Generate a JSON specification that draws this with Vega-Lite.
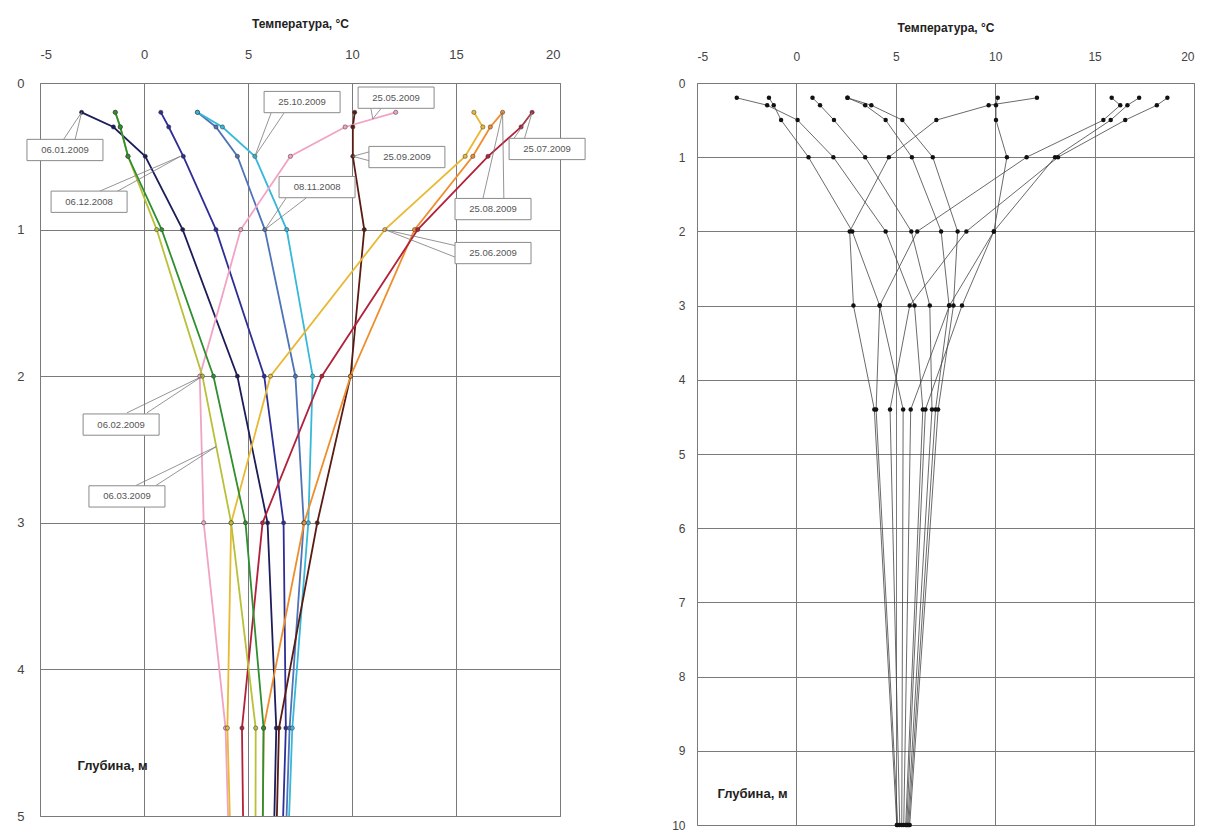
{
  "$schema": "https://vega.github.io/schema/vega-lite/v6.json",
  "background": "white",
  "padding": {"left": 16, "top": 16, "right": 5, "bottom": 2},
  "spacing": 83,
  "config": {
    "font": "Liberation Sans",
    "view": {"stroke": "#808080", "strokeWidth": 1},
    "axis": {
      "labelFont": "Liberation Sans", "labelColor": "#444", "labelFontSize": 13,
      "titleFont": "Liberation Sans", "titleColor": "#222", "titleFontSize": 12, "titleFontWeight": "bold",
      "gridColor": "#7a7a7a", "gridOpacity": 1, "gridWidth": 1, "domain": false, "ticks": false,
      "labelExpr": "'' + datum.value"
    }
  },
  "datasets": {
    "profiles": [
      {"date": "06.01.2009", "depth": 0.2, "temp": -3.0},
      {"date": "06.01.2009", "depth": 0.3, "temp": -1.47},
      {"date": "06.01.2009", "depth": 0.5, "temp": 0.06},
      {"date": "06.01.2009", "depth": 1.0, "temp": 1.86},
      {"date": "06.01.2009", "depth": 2.0, "temp": 4.49},
      {"date": "06.01.2009", "depth": 3.0, "temp": 5.94},
      {"date": "06.01.2009", "depth": 4.4, "temp": 6.36},
      {"date": "06.01.2009", "depth": 10.0, "temp": 5.5},
      {"date": "06.12.2008", "depth": 0.2, "temp": 0.81},
      {"date": "06.12.2008", "depth": 0.3, "temp": 1.19},
      {"date": "06.12.2008", "depth": 0.5, "temp": 1.89},
      {"date": "06.12.2008", "depth": 1.0, "temp": 3.46},
      {"date": "06.12.2008", "depth": 2.0, "temp": 5.78},
      {"date": "06.12.2008", "depth": 3.0, "temp": 6.71},
      {"date": "06.12.2008", "depth": 4.4, "temp": 6.82},
      {"date": "06.12.2008", "depth": 10.0, "temp": 5.6},
      {"date": "08.11.2008", "depth": 0.2, "temp": 2.57},
      {"date": "08.11.2008", "depth": 0.3, "temp": 3.46},
      {"date": "08.11.2008", "depth": 0.5, "temp": 4.49},
      {"date": "08.11.2008", "depth": 1.0, "temp": 5.81},
      {"date": "08.11.2008", "depth": 2.0, "temp": 7.28},
      {"date": "08.11.2008", "depth": 3.0, "temp": 7.68},
      {"date": "08.11.2008", "depth": 4.4, "temp": 7.0},
      {"date": "08.11.2008", "depth": 10.0, "temp": 5.65},
      {"date": "25.10.2009", "depth": 0.2, "temp": 2.57},
      {"date": "25.10.2009", "depth": 0.3, "temp": 3.77},
      {"date": "25.10.2009", "depth": 0.5, "temp": 5.33},
      {"date": "25.10.2009", "depth": 1.0, "temp": 6.86},
      {"date": "25.10.2009", "depth": 2.0, "temp": 8.11},
      {"date": "25.10.2009", "depth": 3.0, "temp": 7.9},
      {"date": "25.10.2009", "depth": 4.4, "temp": 7.13},
      {"date": "25.10.2009", "depth": 10.0, "temp": 5.7},
      {"date": "25.09.2009", "depth": 0.2, "temp": 10.13},
      {"date": "25.09.2009", "depth": 0.3, "temp": 10.04},
      {"date": "25.09.2009", "depth": 0.5, "temp": 10.04},
      {"date": "25.09.2009", "depth": 1.0, "temp": 10.59},
      {"date": "25.09.2009", "depth": 2.0, "temp": 9.93},
      {"date": "25.09.2009", "depth": 3.0, "temp": 8.33},
      {"date": "25.09.2009", "depth": 4.4, "temp": 6.49},
      {"date": "25.09.2009", "depth": 10.0, "temp": 5.55},
      {"date": "25.05.2009", "depth": 0.2, "temp": 12.1},
      {"date": "25.05.2009", "depth": 0.3, "temp": 9.67},
      {"date": "25.05.2009", "depth": 0.5, "temp": 7.04},
      {"date": "25.05.2009", "depth": 1.0, "temp": 4.65},
      {"date": "25.05.2009", "depth": 2.0, "temp": 2.68},
      {"date": "25.05.2009", "depth": 3.0, "temp": 2.87},
      {"date": "25.05.2009", "depth": 4.4, "temp": 3.92},
      {"date": "25.05.2009", "depth": 10.0, "temp": 5.05},
      {"date": "25.06.2009", "depth": 0.2, "temp": 15.86},
      {"date": "25.06.2009", "depth": 0.3, "temp": 16.29},
      {"date": "25.06.2009", "depth": 0.5, "temp": 15.44},
      {"date": "25.06.2009", "depth": 1.0, "temp": 11.58},
      {"date": "25.06.2009", "depth": 2.0, "temp": 6.08},
      {"date": "25.06.2009", "depth": 3.0, "temp": 4.19},
      {"date": "25.06.2009", "depth": 4.4, "temp": 4.01},
      {"date": "25.06.2009", "depth": 10.0, "temp": 5.1},
      {"date": "25.08.2009", "depth": 0.2, "temp": 17.24},
      {"date": "25.08.2009", "depth": 0.3, "temp": 16.65},
      {"date": "25.08.2009", "depth": 0.5, "temp": 15.81},
      {"date": "25.08.2009", "depth": 1.0, "temp": 13.01},
      {"date": "25.08.2009", "depth": 2.0, "temp": 9.93},
      {"date": "25.08.2009", "depth": 3.0, "temp": 7.7},
      {"date": "25.08.2009", "depth": 4.4, "temp": 5.75},
      {"date": "25.08.2009", "depth": 10.0, "temp": 5.4},
      {"date": "25.07.2009", "depth": 0.2, "temp": 18.66},
      {"date": "25.07.2009", "depth": 0.3, "temp": 18.13},
      {"date": "25.07.2009", "depth": 0.5, "temp": 16.54},
      {"date": "25.07.2009", "depth": 1.0, "temp": 13.16},
      {"date": "25.07.2009", "depth": 2.0, "temp": 8.55},
      {"date": "25.07.2009", "depth": 3.0, "temp": 5.7},
      {"date": "25.07.2009", "depth": 4.4, "temp": 4.71},
      {"date": "25.07.2009", "depth": 10.0, "temp": 5.2},
      {"date": "06.02.2009", "depth": 0.2, "temp": -1.38},
      {"date": "06.02.2009", "depth": 0.3, "temp": -1.14},
      {"date": "06.02.2009", "depth": 0.5, "temp": -0.77},
      {"date": "06.02.2009", "depth": 1.0, "temp": 0.61},
      {"date": "06.02.2009", "depth": 2.0, "temp": 2.81},
      {"date": "06.02.2009", "depth": 3.0, "temp": 4.19},
      {"date": "06.02.2009", "depth": 4.4, "temp": 5.37},
      {"date": "06.02.2009", "depth": 10.0, "temp": 5.3},
      {"date": "06.03.2009", "depth": 0.2, "temp": -1.38},
      {"date": "06.03.2009", "depth": 0.3, "temp": -1.14},
      {"date": "06.03.2009", "depth": 0.5, "temp": -0.77},
      {"date": "06.03.2009", "depth": 1.0, "temp": 0.85},
      {"date": "06.03.2009", "depth": 2.0, "temp": 3.34},
      {"date": "06.03.2009", "depth": 3.0, "temp": 4.88},
      {"date": "06.03.2009", "depth": 4.4, "temp": 5.75},
      {"date": "06.03.2009", "depth": 10.0, "temp": 5.4}
    ],
    "labels": [
      {"label": "06.01.2009", "temp": -3.8, "depth": 0.457},
      {"label": "06.12.2008", "temp": -2.64, "depth": 0.81},
      {"label": "25.10.2009", "temp": 7.6, "depth": 0.13},
      {"label": "25.05.2009", "temp": 12.12, "depth": 0.1},
      {"label": "25.09.2009", "temp": 12.64, "depth": 0.505},
      {"label": "08.11.2008", "temp": 8.32, "depth": 0.71},
      {"label": "25.07.2009", "temp": 19.38, "depth": 0.45},
      {"label": "25.08.2009", "temp": 16.78, "depth": 0.86},
      {"label": "25.06.2009", "temp": 16.78, "depth": 1.16},
      {"label": "06.02.2009", "temp": -1.1, "depth": 2.33},
      {"label": "06.03.2009", "temp": -0.82, "depth": 2.82}
    ],
    "leaders": [
      {"temp": -3.89, "depth": 0.39, "temp2": -3.0, "depth2": 0.2},
      {"temp": -3.32, "depth": 0.39, "temp2": -3.0, "depth2": 0.2},
      {"temp": -2.16, "depth": 0.74, "temp2": 1.75, "depth2": 0.5},
      {"temp": -1.3, "depth": 0.74, "temp2": 1.75, "depth2": 0.5},
      {"temp": 6.11, "depth": 0.205, "temp2": 5.33, "depth2": 0.5},
      {"temp": 6.73, "depth": 0.205, "temp2": 5.33, "depth2": 0.5},
      {"temp": 10.91, "depth": 0.175, "temp2": 11.0, "depth2": 0.245},
      {"temp": 11.39, "depth": 0.175, "temp2": 11.0, "depth2": 0.245},
      {"temp": 10.82, "depth": 0.47, "temp2": 10.04, "depth2": 0.5},
      {"temp": 10.82, "depth": 0.53, "temp2": 10.04, "depth2": 0.5},
      {"temp": 6.83, "depth": 0.785, "temp2": 5.81, "depth2": 1.0},
      {"temp": 7.79, "depth": 0.785, "temp2": 5.81, "depth2": 1.0},
      {"temp": 17.8, "depth": 0.375, "temp2": 18.66, "depth2": 0.2},
      {"temp": 18.3, "depth": 0.375, "temp2": 18.66, "depth2": 0.2},
      {"temp": 16.3, "depth": 0.785, "temp2": 17.24, "depth2": 0.2},
      {"temp": 17.3, "depth": 0.785, "temp2": 17.24, "depth2": 0.2},
      {"temp": 15.0, "depth": 1.11, "temp2": 11.58, "depth2": 1.0},
      {"temp": 15.0, "depth": 1.19, "temp2": 11.58, "depth2": 1.0},
      {"temp": -0.82, "depth": 2.25, "temp2": 2.81, "depth2": 2.0},
      {"temp": 0.14, "depth": 2.25, "temp2": 2.81, "depth2": 2.0},
      {"temp": -0.38, "depth": 2.745, "temp2": 3.47, "depth2": 2.48},
      {"temp": 0.58, "depth": 2.745, "temp2": 3.47, "depth2": 2.48}
    ]
  },
  "hconcat": [
    {
      "width": 520,
      "height": 733,
      "layer": [
        {
          "data": {"name": "profiles"},
          "mark": {"type": "line", "strokeWidth": 1.8, "clip": true},
          "encoding": {
            "x": {"field": "temp", "type": "quantitative",
              "scale": {"domain": [-5, 20], "nice": false, "zero": false},
              "axis": {"orient": "top", "values": [-5, 0, 5, 10, 15, 20], "title": "Температура, °C", "labelPadding": 22, "titlePadding": 18}},
            "y": {"field": "depth", "type": "quantitative",
              "scale": {"domain": [0, 5], "reverse": true, "nice": false},
              "axis": {"values": [0, 1, 2, 3, 4, 5], "title": "Глубина, м", "titleAngle": 0, "titleX": 72, "titleY": 682, "titleAlign": "center", "titleBaseline": "middle", "titleFontSize": 13, "labelPadding": 16}},
            "color": {"field": "date", "type": "nominal", "legend": null,
              "scale": {
                "domain": ["06.01.2009", "06.12.2008", "08.11.2008", "25.10.2009", "25.09.2009", "25.05.2009", "25.06.2009", "25.08.2009", "25.07.2009", "06.02.2009", "06.03.2009"],
                "range": ["#1c1c5a", "#2e2e96", "#4f73b8", "#38b8d8", "#5a1c12", "#f2a3c4", "#e9b934", "#ef8d2c", "#b3203a", "#b8c038", "#2f8f2f"]}},
            "order": {"field": "depth", "type": "quantitative"}
          }
        },
        {
          "data": {"name": "profiles"},
          "mark": {"type": "point", "filled": true, "size": 18, "opacity": 1, "clip": true, "stroke": "#333", "strokeWidth": 0.5},
          "encoding": {
            "x": {"field": "temp", "type": "quantitative"},
            "y": {"field": "depth", "type": "quantitative"},
            "fill": {"field": "date", "type": "nominal", "legend": null,
              "scale": {
                "domain": ["06.01.2009", "06.12.2008", "08.11.2008", "25.10.2009", "25.09.2009", "25.05.2009", "25.06.2009", "25.08.2009", "25.07.2009", "06.02.2009", "06.03.2009"],
                "range": ["#1c1c5a", "#2e2e96", "#4f73b8", "#38b8d8", "#5a1c12", "#f2a3c4", "#e9b934", "#ef8d2c", "#b3203a", "#b8c038", "#2f8f2f"]}}
          }
        },
        {
          "data": {"name": "leaders"},
          "mark": {"type": "rule", "color": "#7a7a7a", "strokeWidth": 0.8},
          "encoding": {
            "x": {"field": "temp", "type": "quantitative"},
            "y": {"field": "depth", "type": "quantitative"},
            "x2": {"field": "temp2"},
            "y2": {"field": "depth2"}
          }
        },
        {
          "data": {"name": "labels"},
          "mark": {"type": "point", "shape": "M-1,-0.28H1V0.28H-1Z", "size": 5776, "filled": true, "fill": "white", "stroke": "#8a8a8a", "strokeWidth": 1, "opacity": 1},
          "encoding": {
            "x": {"field": "temp", "type": "quantitative"},
            "y": {"field": "depth", "type": "quantitative"}
          }
        },
        {
          "data": {"name": "labels"},
          "mark": {"type": "text", "fontSize": 9.5, "color": "#555", "font": "Liberation Sans", "align": "center", "baseline": "middle"},
          "encoding": {
            "x": {"field": "temp", "type": "quantitative"},
            "y": {"field": "depth", "type": "quantitative"},
            "text": {"field": "label"}
          }
        }
      ]
    },
    {
      "width": 497,
      "height": 742,
      "data": {"name": "profiles"},
      "transform": [{"filter": "datum.date !== '06.03.2009'"}],
      "layer": [
        {
          "mark": {"type": "line", "color": "#444", "strokeWidth": 0.8},
          "encoding": {
            "x": {"field": "temp", "type": "quantitative",
              "scale": {"domain": [-5, 20], "nice": false, "zero": false},
              "axis": {"orient": "top", "values": [-5, 0, 5, 10, 15, 20], "title": "Температура, °C", "labelFontSize": 12, "labelPadding": 20, "titlePadding": 16}},
            "y": {"field": "depth", "type": "quantitative",
              "scale": {"domain": [0, 10], "reverse": true, "nice": false},
              "axis": {"values": [0, 1, 2, 3, 4, 5, 6, 7, 8, 9, 10], "title": "Глубина, м", "titleAngle": 0, "titleX": 55, "titleY": 710, "titleAlign": "center", "titleBaseline": "middle", "titleFontSize": 13, "labelFontSize": 12, "labelPadding": 12}},
            "detail": {"field": "date", "type": "nominal"},
            "order": {"field": "depth", "type": "quantitative"}
          }
        },
        {
          "mark": {"type": "point", "filled": true, "color": "#111", "size": 20, "opacity": 1},
          "encoding": {
            "x": {"field": "temp", "type": "quantitative"},
            "y": {"field": "depth", "type": "quantitative"}
          }
        }
      ]
    }
  ]
}
